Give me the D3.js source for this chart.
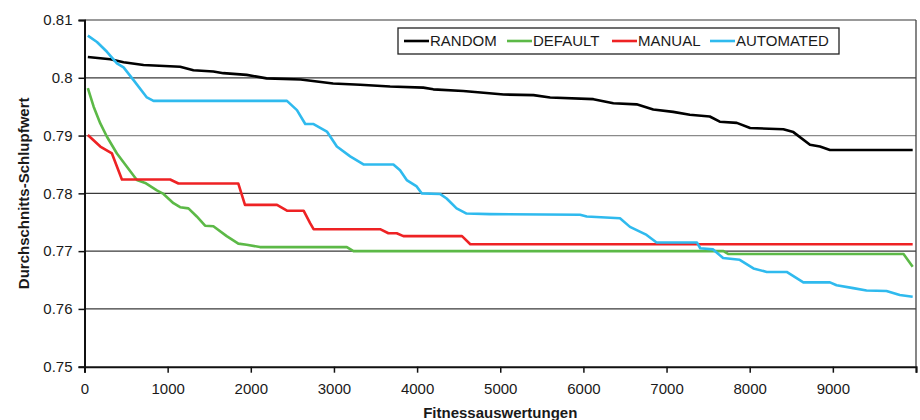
<!DOCTYPE html>
<html>
<head>
<meta charset="utf-8">
<script src="https://cdn.jsdelivr.net/npm/d3@7"></script>
<style>
    body { margin: 0; background: #fff; }
    svg text { font-family: "Liberation Sans", Arial, sans-serif; fill: #1a1a1a; }
</style>
</head>
<body>
<div id="chart"></div>
<script>
// Werte
const seriesNames = ["RANDOM", "DEFAULT", "MANUAL", "AUTOMATED"];
const seriesColors = ["#000000", "#5cb947", "#ee2224", "#2fbaee"];

const randomX = [40, 310, 470, 710, 1150, 1310, 1550, 1670, 1950, 2190, 2600, 2990, 3315, 3675, 4075, 4195, 4555, 4800, 5040, 5400, 5600, 6120, 6360, 6640, 6840, 7080, 7280, 7520, 7640, 7845, 8005, 8405, 8525, 8725, 8845, 8965, 9960];
const randomY = [0.8036, 0.8032, 0.8027, 0.8022, 0.8019, 0.8013, 0.8011, 0.8008, 0.8005, 0.7999, 0.7997, 0.7990, 0.7988, 0.7985, 0.7983, 0.7980, 0.7977, 0.7974, 0.7971, 0.7970, 0.7966, 0.7963, 0.7956, 0.7954, 0.7945, 0.7941, 0.7936, 0.7933, 0.7924, 0.7922, 0.7913, 0.7911, 0.7906, 0.7884, 0.7881, 0.7875, 0.7875];

const defaultX = [40, 110, 190, 270, 390, 510, 630, 730, 870, 950, 1070, 1150, 1250, 1350, 1450, 1550, 1710, 1850, 1950, 2110, 3155, 3235, 7685, 7745, 9850, 9960];
const defaultY = [0.7982, 0.7950, 0.7921, 0.7898, 0.7869, 0.7846, 0.7823, 0.7818, 0.7805, 0.7799, 0.7783, 0.7776, 0.7774, 0.7760, 0.7744, 0.7743, 0.7726, 0.7713, 0.7711, 0.7707, 0.7707, 0.7700, 0.7700, 0.7695, 0.7695, 0.7673];

const manualX = [40, 190, 330, 450, 1030, 1130, 1850, 1930, 2315, 2435, 2635, 2715, 2755, 3555, 3655, 3755, 3835, 4540, 4640, 9960];
const manualY = [0.7901, 0.7881, 0.7869, 0.7824, 0.7824, 0.7817, 0.7817, 0.7780, 0.7780, 0.7770, 0.7770, 0.7748, 0.7738, 0.7738, 0.7731, 0.7731, 0.7726, 0.7726, 0.7712, 0.7712];

const automatedX = [40, 150, 270, 390, 470, 590, 750, 830, 2435, 2555, 2655, 2755, 2915, 3035, 3195, 3355, 3715, 3795, 3875, 3995, 4055, 4275, 4355, 4475, 4595, 4875, 5960, 6040, 6440, 6560, 6760, 6880, 7365, 7405, 7560, 7680, 7880, 8045, 8205, 8445, 8645, 8965, 9045, 9245, 9405, 9645, 9805, 9960];
const automatedY = [0.8073, 0.8062, 0.8045, 0.8025, 0.8018, 0.7996, 0.7966, 0.7960, 0.7960, 0.7944, 0.7920, 0.7920, 0.7907, 0.7881, 0.7864, 0.7850, 0.7850, 0.7840, 0.7823, 0.7812, 0.7800, 0.7799, 0.7791, 0.7774, 0.7765, 0.7764, 0.7763, 0.7760, 0.7757, 0.7742, 0.7728, 0.7715, 0.7715, 0.7705, 0.7703, 0.7688, 0.7685, 0.7670, 0.7664, 0.7664, 0.7646, 0.7646, 0.7641, 0.7636, 0.7632, 0.7631, 0.7624, 0.7621];

const xTicks = [0, 1000, 2000, 3000, 4000, 5000, 6000, 7000, 8000, 9000, 10000];
const yTicks = [0.75, 0.76, 0.77, 0.78, 0.79, 0.80, 0.81];
const yTickLabels = ["0.75", "0.76", "0.77", "0.78", "0.79", "0.8", "0.81"];

const xTitle = "Fitnessauswertungen";
const yTitle = "Durchschnitts-Schlupfwert";

const allSeries = [
    { xs: randomX, ys: randomY },
    { xs: defaultX, ys: defaultY },
    { xs: manualX, ys: manualY },
    { xs: automatedX, ys: automatedY }
];

const W = 920, H = 420;
const margin = { top: 20, right: 4, bottom: 53.3, left: 84.5 };
const width = W - margin.left - margin.right;
const height = H - margin.top - margin.bottom;

const svg = d3.select("#chart").append("svg")
    .attr("width", W)
    .attr("height", H);

const g = svg.append("g")
    .attr("transform", `translate(${margin.left},${margin.top})`);

const x = d3.scaleLinear().domain([0, 10000]).range([0, width]);
const y = d3.scaleLinear().domain([0.75, 0.81]).range([height, 0]);

// Gitterlinien
g.append("g")
    .selectAll("line")
    .data(yTicks.slice(1))
    .enter().append("line")
    .attr("x1", 0)
    .attr("x2", width)
    .attr("y1", d => y(d))
    .attr("y2", d => y(d))
    .attr("stroke", d => (d === 0.81 ? "#777" : d === 0.79 ? "#8a8a8a" : "#3a3a3a"))
    .attr("stroke-width", 1.3);

// rechter Rand
g.append("line")
    .attr("x1", width).attr("x2", width)
    .attr("y1", 0).attr("y2", height)
    .attr("stroke", "#444")
    .attr("stroke-width", 1.3);

// Achsen
const yAxis = g.append("g")
    .call(d3.axisLeft(y).tickValues(yTicks)
        .tickFormat((d, i) => yTickLabels[i])
        .tickSize(6).tickPadding(6));

const xAxis = g.append("g")
    .attr("transform", `translate(0,${height})`)
    .call(d3.axisBottom(x).tickValues(xTicks)
        .tickFormat(d => (d === 10000 ? "" : d))
        .tickSize(6).tickPadding(11));

[yAxis, xAxis].forEach(ax => {
    ax.select(".domain").attr("stroke", "#111").attr("stroke-width", 2);
    ax.selectAll(".tick line").attr("stroke", "#111").attr("stroke-width", 1.5);
    ax.selectAll(".tick text")
        .style("font-size", "15px")
        .style("fill", "#1a1a1a");
});

// Linien
const line = d3.line()
    .x(d => x(d[0]))
    .y(d => y(d[1]));

allSeries.forEach((s, i) => {
    const pts = s.xs.map((v, j) => [v, s.ys[j]]);
    g.append("path")
        .datum(pts)
        .attr("d", line)
        .attr("fill", "none")
        .attr("stroke", seriesColors[i])
        .attr("stroke-width", 2.6)
        .attr("stroke-linejoin", "round");
});

// Legende
const legend = svg.append("g").attr("transform", "translate(398,28)");
legend.append("rect")
    .attr("width", 441)
    .attr("height", 26)
    .attr("fill", "#fff")
    .attr("stroke", "#222")
    .attr("stroke-width", 1.3);

const legendOffsets = [6, 109, 214, 312];
seriesNames.forEach((name, i) => {
    const item = legend.append("g").attr("transform", `translate(${legendOffsets[i]},13)`);
    item.append("line")
        .attr("x1", 0).attr("x2", 25)
        .attr("stroke", seriesColors[i])
        .attr("stroke-width", 2.6);
    item.append("text")
        .attr("x", 26)
        .attr("dy", "0.36em")
        .style("font-size", "15px")
        .text(name);
});

// Achsentitel
svg.append("text")
    .attr("x", margin.left + width / 2)
    .attr("y", 418)
    .attr("text-anchor", "middle")
    .style("font-size", "15px")
    .style("font-weight", "bold")
    .text(xTitle);

svg.append("text")
    .attr("transform", `translate(29,${margin.top + height / 2}) rotate(-90)`)
    .attr("text-anchor", "middle")
    .style("font-size", "15px")
    .style("font-weight", "bold")
    .text(yTitle);
</script>
</body>
</html>
